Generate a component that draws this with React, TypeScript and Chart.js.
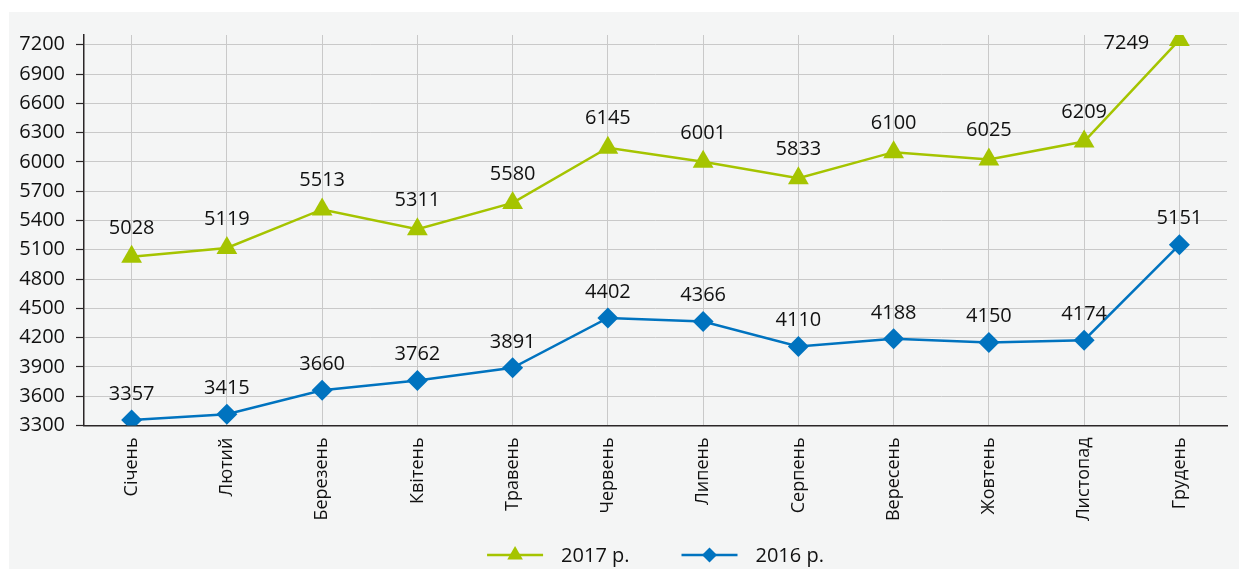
import React, { useEffect, useRef } from 'react';
import { Chart, registerables } from 'chart.js';
import { drawPoint } from 'chart.js/helpers';

Chart.register(...registerables);

const months = ['Січень', 'Лютий', 'Березень', 'Квітень', 'Травень', 'Червень', 'Липень', 'Серпень', 'Вересень', 'Жовтень', 'Листопад', 'Грудень'];
const values2017 = [5028, 5119, 5513, 5311, 5580, 6145, 6001, 5833, 6100, 6025, 6209, 7249];
const values2016 = [3357, 3415, 3660, 3762, 3891, 4402, 4366, 4110, 4188, 4150, 4174, 5151];
const seriesLabels = ['2017 р.', '2016 р.'];
const yTickValues = [3300, 3600, 3900, 4200, 4500, 4800, 5100, 5400, 5700, 6000, 6300, 6600, 6900, 7200];
const yMin = 3300;
const yMax = 7300;

const GREEN = '#a5c400';
const BLUE = '#0073bf';
const FONT = '"Open Sans", "Noto Sans", sans-serif';
const TEXT = '#111111';

const dataLabelPlugin = {
  id: 'dataLabels',
  afterDatasetsDraw(chart: any) {
    const ctx = chart.ctx;
    const area = chart.chartArea;
    ctx.save();
    ctx.font = `20px ${FONT}`;
    ctx.fillStyle = TEXT;
    ctx.textAlign = 'center';
    ctx.textBaseline = 'middle';
    chart.data.datasets.forEach((ds: any, di: number) => {
      const meta = chart.getDatasetMeta(di);
      const off = ds.pointStyle === 'triangle' ? 29 : 26;
      meta.data.forEach((pt: any, i: number) => {
        const txt = String(ds.data[i]);
        let x = pt.x;
        let y = pt.y - off;
        if (y - 8 < area.top) {
          x = pt.x - 53;
          y = pt.y + 3;
        }
        ctx.fillText(txt, x, y);
      });
    });
    ctx.restore();
  },
};

const legendPlugin = {
  id: 'customLegend',
  afterDraw(chart: any) {
    const ctx = chart.ctx;
    const area = chart.chartArea;
    ctx.save();
    ctx.font = `20px ${FONT}`;
    const lineLen = 56;
    const textGap = 18;
    const itemGap = 52;
    const items = chart.data.datasets.map((ds: any) => ({
      ds,
      w: lineLen + textGap + ctx.measureText(ds.label).width,
    }));
    const total = items.reduce((s: number, it: any) => s + it.w, 0) + itemGap * (items.length - 1);
    let x = (area.left + area.right) / 2 - total / 2;
    const y = chart.height - 14;
    items.forEach((it: any) => {
      const ds = it.ds;
      ctx.strokeStyle = ds.borderColor;
      ctx.lineWidth = 2.5;
      ctx.beginPath();
      ctx.moveTo(x, y);
      ctx.lineTo(x + lineLen, y);
      ctx.stroke();
      ctx.fillStyle = ds.pointBackgroundColor;
      ctx.strokeStyle = ds.pointBorderColor;
      drawPoint(ctx, { pointStyle: ds.pointStyle, radius: ds.pointStyle === 'triangle' ? 9 : 7.5, rotation: 0, borderWidth: 0 }, x + lineLen / 2, y);
      ctx.fillStyle = TEXT;
      ctx.textAlign = 'left';
      ctx.textBaseline = 'middle';
      ctx.fillText(ds.label, x + lineLen + textGap, y + 1);
      x += it.w + itemGap;
    });
    ctx.restore();
  },
};

function ChartView() {
  const ref = useRef<HTMLCanvasElement | null>(null);
  useEffect(() => {
    if (!ref.current) return;
    const chart = new Chart(ref.current, {
      type: 'line',
      data: {
        labels: months,
        datasets: [
          {
            label: seriesLabels[0],
            data: values2017,
            borderColor: GREEN,
            backgroundColor: GREEN,
            pointBackgroundColor: GREEN,
            pointBorderColor: GREEN,
            pointStyle: 'triangle',
            pointRadius: 12,
            pointBorderWidth: 0,
            borderWidth: 2.5,
            tension: 0,
          } as any,
          {
            label: seriesLabels[1],
            data: values2016,
            borderColor: BLUE,
            backgroundColor: BLUE,
            pointBackgroundColor: BLUE,
            pointBorderColor: BLUE,
            pointStyle: 'rectRot',
            pointRadius: 10.5,
            pointBorderWidth: 0,
            borderWidth: 2.5,
            tension: 0,
          } as any,
        ],
      },
      options: {
        animation: false,
        responsive: false,
        maintainAspectRatio: false,
        layout: { padding: { left: 0, right: 8, top: 22, bottom: 0 } },
        plugins: {
          legend: { display: false },
          tooltip: { enabled: false },
        },
        scales: {
          x: {
            type: 'category',
            offset: true,
            grid: { offset: false, color: '#c9c9c9', lineWidth: 1, drawTicks: false },
            border: { color: '#2a2627', width: 1.5 },
            ticks: {
              font: { family: FONT, size: 18 },
              color: TEXT,
              maxRotation: 90,
              minRotation: 90,
              padding: 12,
              autoSkip: false,
            },
            afterFit(scale: any) {
              scale.height = 143.5;
            },
          },
          y: {
            min: yMin,
            max: yMax,
            grid: { color: '#c9c9c9', lineWidth: 1, tickLength: 8, tickColor: '#2a2627', tickWidth: 1.2 },
            border: { color: '#2a2627', width: 1.5 },
            ticks: {
              font: { family: FONT, size: 20 },
              color: TEXT,
              padding: 11,
              callback: (v: any) => String(v),
            },
            afterBuildTicks(scale: any) {
              scale.ticks = yTickValues.map((v) => ({ value: v }));
            },
            afterFit(scale: any) {
              scale.width = 75;
            },
          },
        },
      },
      plugins: [dataLabelPlugin, legendPlugin],
    });
    return () => chart.destroy();
  }, []);
  return <canvas ref={ref} width={1230} height={557} style={{ display: 'block', width: 1230, height: 557 }} />;
}

export default function App() {
  return (
    <div style={{ position: 'fixed', left: 0, top: 0, width: 1239, height: 569, background: '#ffffff', overflow: 'hidden' }}>
      <div style={{ position: 'absolute', left: 9, top: 12, width: 1230, height: 557, background: '#f4f5f5' }}>
        <ChartView />
      </div>
    </div>
  );
}
